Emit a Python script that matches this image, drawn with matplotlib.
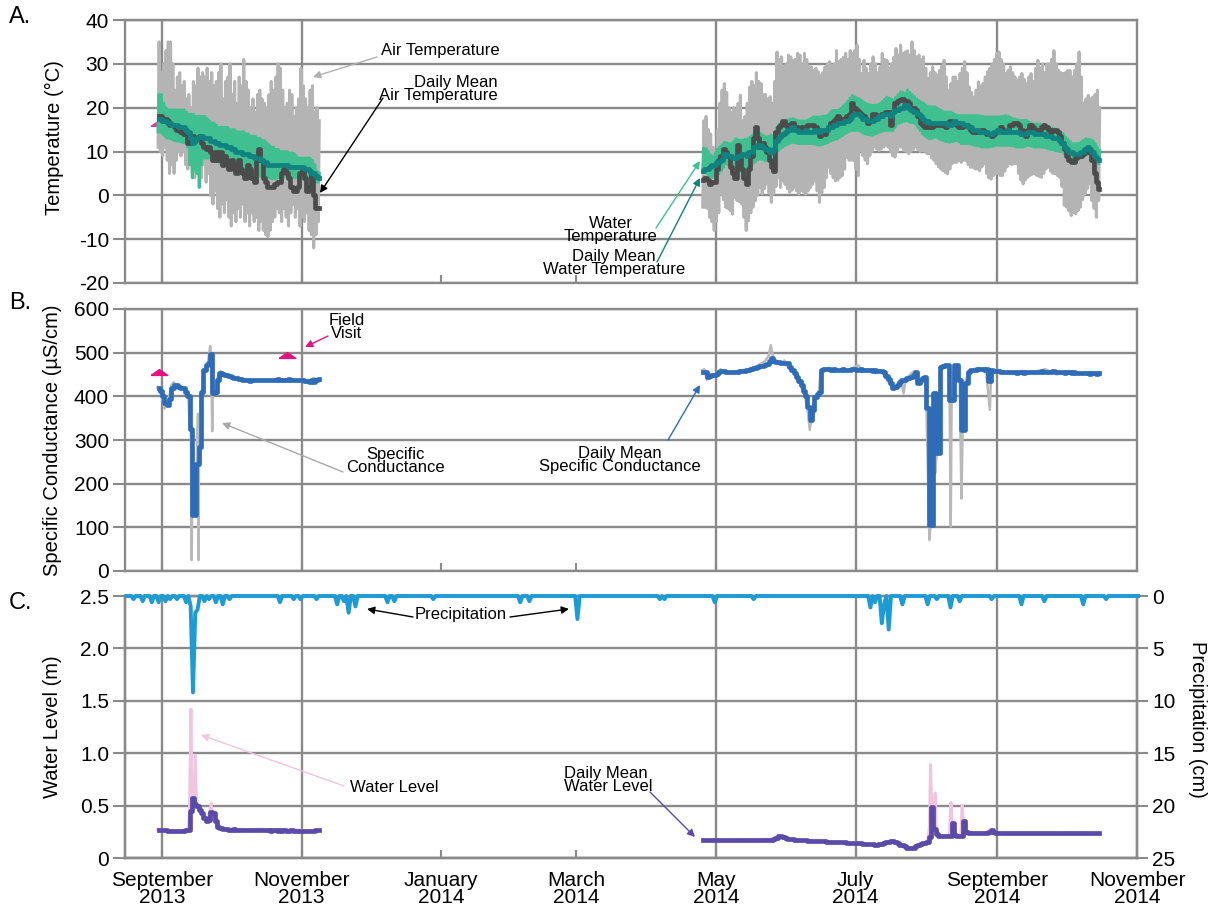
import numpy as np
import matplotlib
matplotlib.use('Agg')
import matplotlib.pyplot as plt
import matplotlib.dates as mdates

plt.rcParams['font.family'] = ['Liberation Sans', 'DejaVu Sans']
plt.rcParams['axes.unicode_minus'] = False

# ------------------------------------------------------------------ data
seg1_start = '2013-08-30'   # first deployment, daily values
seg2_start = '2014-04-25'   # second deployment, daily values

# Panel A - air temperature daily max / min / mean (deg C)
air_max_1 = [35, 28, 30, 33, 35, 35, 30, 24, 27, 28,
             25, 26, 22, 23, 20, 26, 25, 29, 27, 28,
             27, 29, 26, 28, 25, 26, 28, 30, 22, 26,
             27, 30, 23, 26, 21, 27, 25, 31, 26, 24,
             20, 22, 19, 23, 24, 22, 21, 20, 23, 26,
             24, 27, 30, 29, 24, 20, 21, 24, 23, 18,
             20, 22, 29, 25, 22, 20, 24, 25, 19, 20,
             17]
air_min_1 = [11, 10, 9, 11, 8, 5, 7, 5, 8, 10,
             9, 10, 7, 6, 8, 5, 4, 6, 5, 4,
             7, 3, 5, 0, -2, 1, -3, -5, -2, -4,
             -1, -5, -7, -4, -6, -3, -5, -2, -6, -4,
             -7, -4, -6, -5, -8, -6, -8, -9, -9.5, -8,
             -6, -5, -3, -4, -6, -3, -5, -7, -4, -2,
             -5, -3, -7, -5, -6, -4, -8, -9, -12, -9,
             -6]
air_mean_1 = [18, 18, 17, 17.5, 17, 16, 16, 15.5, 15, 15,
              14.5, 14, 14, 12, 13, 13.5, 13, 13, 13.5, 12,
              11, 10.5, 11, 10, 8, 10, 8, 10, 7, 9,
              8, 6, 8, 7, 5, 8, 6, 5, 4, 7,
              6, 4, 3, 8, 10.5, 8, 4, 3, 2, 2,
              2, 2.5, 3, 3, 5, 6, 5, 4, 2, 1,
              1, 2, 5, 6, 4, 1, 2, 5, 0, -3,
              -3]
air_max_2 = [17, 18, 15, 14, 11, 8, 15, 21, 24, 25.5,
             23.5, 20, 19, 20, 19.5, 21, 22.8, 17, 18, 21,
             24.7, 26, 25, 28, 26, 25.5, 23, 23, 22, 22.5,
             21, 26, 32.7, 31, 31.6, 29.3, 30, 32, 31.6, 30.8,
             31, 32.4, 32, 30, 32.4, 31, 29.3, 29.3, 28.5, 29,
             28.2, 27.4, 28, 29.3, 30, 30.5, 29.7, 30, 33, 30.5,
             31, 31.5, 32.4, 31, 33, 32.4, 33, 34.3, 31, 27.8,
             30.8, 29, 27.8, 30, 31.6, 30, 28, 29.3, 32.4, 31,
             30.8, 29, 30, 31.5, 33.5, 32, 34.3, 32.4, 32.7, 33,
             32, 35, 33, 31.6, 32, 31, 31.6, 29, 26.6, 28,
             29.3, 28, 27.4, 28.5, 29.5, 30.8, 27, 24, 25.5, 27,
             27, 26, 27.8, 29, 30.5, 28, 24.7, 23.5, 22.4, 24,
             25.9, 25, 25.5, 27, 28.2, 29, 30, 31, 32.4, 32.7,
             31, 30, 27.8, 28.5, 29.3, 28, 27, 26.3, 27, 27.8,
             26.5, 25.5, 27, 27.8, 26, 29, 30.8, 29, 30, 28,
             30, 30, 31, 33, 30, 28.5, 28, 27.8, 28, 28.5,
             28.5, 27, 28.5, 30, 32.7, 27, 21, 22, 22.8, 22,
             22.4, 23, 24, 20]
air_min_2 = [-2.7, -2.7, -3, -5, -6, -8, -6, -4, 0.3, -1,
             -2.7, -3, -3.5, -4.3, -0.5, -1.2, -1.5, -2, -5, -8,
             -5.8, -4, -2.7, -1.2, 0, 1.8, 0.3, 1.5, 2.6, 0.5,
             -1.6, 0.3, 2, 4.1, 1.8, 3.3, 2.5, 1.5, 0.7, 1.2,
             1.8, 1, 0.3, 1.1, 0.8, 0.3, 1, 1.8, 2.5, 3.3,
             1, -1.6, 0.5, 1.8, 4, 6.4, 5, 4, 3.3, 3.5,
             4.1, 4.5, 6, 8.7, 8, 8, 7.9, 6, 4.5, 10.2,
             9, 8, 7.2, 9, 10, 11, 10.6, 10.2, 10.6, 11,
             11.4, 11, 10, 9, 8.7, 10, 11, 11, 10.2, 10,
             9.5, 10, 10.5, 11, 10.5, 10, 10.2, 10, 9.5, 9.5,
             8.5, 8, 7.2, 6.5, 6, 5.6, 5.2, 4.9, 6, 7.2,
             7.5, 7.5, 7.9, 7.5, 8, 7.9, 7, 6.4, 6.4, 6,
             6, 5.6, 6.5, 7.2, 5, 4, 3.7, 4.5, 4.9, 5,
             4.5, 4.5, 5.5, 6.5, 7.2, 7, 7.2, 7.2, 5, 3.5,
             2.6, 3.5, 4.1, 4.5, 4.8, 4.9, 4.5, 4.3, 4.1, 5,
             6, 6.4, 5.5, 5, 4.9, 4.5, 4.1, 2, -2.3, -2.7,
             -3.5, -4.6, -4, -4.2, -3.5, -2.7, -1, 0.3, 1.5, 2.6,
             -1.2, -3, -5, -1.2]
air_mean_2 = [3.5, 4, 3.5, 2.5, 3, 3, 6, 8, 9, 10.5,
              10, 9, 6.5, 5, 4, 11.5, 9, 6, 4, 2.5,
              6, 9, 13, 15.5, 13, 11, 12, 11, 10, 8,
              6.5, 5.5, 14.5, 15.5, 16, 17, 16, 15.5, 16, 16.5,
              15.5, 15.5, 15, 15.5, 15.5, 15.5, 16, 16, 16, 15.5,
              15, 13.5, 14, 14, 15, 15.5, 16.5, 17, 17.5, 18,
              17.5, 17, 17.5, 18, 18.5, 21, 20, 19.5, 19, 18.5,
              18, 17.5, 16.5, 17, 18.5, 18.5, 18, 18, 18.5, 18.5,
              19, 19, 16, 19, 21, 21.5, 21.7, 22, 21.5, 21.5,
              21, 20, 20, 19.5, 18, 16.5, 16, 15.5, 15.5, 16,
              15.5, 16, 16, 16, 16.5, 16, 15.5, 16.5, 17, 16.5,
              16.5, 16, 15.5, 15.5, 16, 16, 15.5, 15, 14.5, 14.5,
              14.5, 14.5, 15, 14.5, 14, 14, 13.5, 14, 14.5, 15,
              15.5, 15, 14.5, 15, 16, 16, 16.5, 16.5, 16, 15,
              14, 13.5, 15, 16, 15.5, 15, 15, 15, 15.5, 16,
              15.5, 15, 14.5, 15, 15, 14.5, 13.5, 12, 10.5, 9,
              8, 7.5, 7.5, 8.5, 9, 9, 9.5, 10, 10.5, 10,
              8, 5, 3, 1.5]

# Panel A - water temperature daily max / min / mean (deg C)
water_max_1 = [23, 23, 21, 20, 19.5, 19.5, 19.5, 19.5, 19.5, 19.5,
               19.5, 19.5, 19, 18.5, 18.5, 18.5, 18, 18, 18, 18,
               18, 17.5, 17, 16.5, 16.5, 16, 15.5, 15.5, 15.5, 15.5,
               15.5, 15, 15, 15, 14.5, 14.5, 14.5, 14.5, 14, 14,
               13.5, 13.5, 13.5, 13, 13, 12.5, 12.5, 12, 11.5, 11,
               11, 10.5, 10.5, 10, 10, 10, 10, 9.7, 9.7, 9.5,
               9, 8.5, 8.5, 8.5, 8.5, 8.5, 8.5, 8, 7, 5.5,
               5]
water_min_1 = [14.5, 14.4, 14, 13.5, 13, 13, 12.8, 12.5, 12.4, 12.3,
               12.2, 12, 12, 11, 7, 4, 5.8, 5, 1.8, 7,
               8.5, 8.5, 8.5, 8.5, 8.3, 8, 7.7, 7.3, 7, 7,
               6.8, 6.5, 6.3, 6, 6, 5.8, 5.7, 5.6, 5.5, 5.3,
               5.2, 5, 4.8, 4.6, 4.5, 4.3, 4.2, 4.1, 4, 3.9,
               3.8, 3.8, 3.9, 4, 4.1, 4.2, 4.2, 4.2, 4.2, 4.2,
               4, 3.9, 3.8, 3.7, 3.6, 3.5, 3.4, 3.2, 3, 3,
               3]
water_mean_1 = [17.5, 17.5, 17, 17, 16.5, 16.5, 16, 16, 16, 15.5,
                15.5, 15.5, 15, 14.5, 13, 12, 12.5, 13, 13.5, 13.5,
                13, 13, 13, 12.5, 12.5, 12, 12, 11.5, 11.5, 11.5,
                11, 11, 10.5, 10.5, 10, 10, 10, 9.5, 9.5, 9.5,
                9, 9, 8.5, 8.5, 8.5, 8, 7.5, 7.5, 7, 7,
                7, 7, 7, 7, 7, 7, 7, 6.5, 6.5, 6.5,
                6.5, 6.5, 6.5, 6.5, 6, 6, 5.5, 5, 5, 4.5,
                4]
water_max_2 = [10.8, 10.6, 10, 9.2, 8.7, 9.5, 10.5, 11, 11.5, 12.1,
               12, 11.8, 11.8, 12.3, 12.9, 12.7, 12.5, 12.6, 12.8, 12.9,
               13.2, 13.6, 14, 14.2, 14.4, 14, 13.6, 13.3, 13.4, 13.6,
               13.7, 14.5, 15.5, 16.3, 16.6, 16.8, 17, 17.2, 17.4, 17.5,
               17.3, 17.1, 17, 17, 17, 17, 17.3, 17.6, 17.9, 17.9,
               17.9, 17.9, 18, 18.1, 18.2, 18.8, 19.3, 19.4, 19.4, 19.4,
               19.9, 20.4, 20.9, 21.5, 22.2, 22.8, 22.5, 22.2, 22, 21.6,
               21.2, 20.9, 20.7, 20.6, 20.5, 20.6, 20.7, 20.9, 21.4, 21.9,
               22.4, 22.2, 22, 21.7, 22.4, 23, 23.6, 23.5, 23.3, 24,
               23.5, 23, 22.5, 22, 21.6, 21.3, 21, 20.6, 20.3, 20.2,
               20.2, 20.2, 19.9, 19.6, 19.3, 19, 19, 19, 19, 18.7,
               18.4, 18.2, 18.2, 18.2, 18.2, 18.2, 18.2, 18.2, 18.2, 18.2,
               18.2, 18.1, 18, 17.9, 17.9, 17.9, 17.9, 17.9, 17.9, 17.9,
               18, 18.1, 18.2, 18, 17.8, 17.5, 17.4, 17.2, 17.1, 17.1,
               17.1, 17.1, 16.8, 16.5, 16.3, 16.3, 16.3, 16.2, 16, 15.8,
               15.6, 15.5, 15.3, 15.2, 15.1, 14.9, 14.5, 14, 13.3, 12.8,
               12.3, 11.8, 11.8, 11.8, 11.8, 12.2, 12.6, 12.9, 12.8, 12.7,
               12.5, 11.8, 11, 10.2]
water_min_2 = [5.5, 5.3, 4.9, 4.5, 4.1, 4.4, 4.7, 4.9, 5.6, 6.4,
               7.2, 7, 6.7, 6.4, 6.1, 5.8, 5.6, 5.3, 5.1, 4.9,
               6, 7, 7.3, 7.7, 8.1, 8.3, 8.2, 8, 7.9, 8.1,
               8.3, 8.8, 9.6, 10.2, 10.6, 11, 11.4, 11.6, 11.9, 12.1,
               12, 11.9, 11.8, 11.8, 11.8, 11.8, 11.8, 11.8, 11.8, 11.7,
               11.5, 11.4, 11.5, 11.7, 11.9, 12.1, 12.4, 12.6, 12.8, 12.9,
               13.3, 13.6, 14, 14.3, 14.6, 14.8, 14.8, 14.8, 14.8, 14.5,
               14.2, 14, 13.9, 13.8, 13.7, 13.9, 14.1, 14.4, 14.5, 14.7,
               14.8, 14.8, 14.8, 14.8, 15.5, 16.3, 16.5, 16.7, 16.9, 17,
               16.8, 16.6, 16.5, 16.3, 15.5, 14.8, 14, 13.6, 13.2, 12.9,
               13, 13.2, 13.3, 13, 12.7, 12.5, 12.3, 12.2, 12.1, 12.2,
               12.4, 12.5, 12.2, 11.8, 11.8, 11.8, 11.8, 11.7, 11.5, 11.4,
               11.3, 11.2, 11, 11, 11, 11, 11.1, 11.2, 11.4, 11.4,
               11.4, 11.4, 11.4, 11.4, 11.4, 11.3, 11.2, 11, 11, 11,
               11, 11.2, 11.4, 11.3, 11.1, 11, 11, 11, 11, 10.9,
               10.8, 10.6, 10.5, 10.4, 10.2, 10.1, 10, 9.9, 9.5, 9.1,
               8.7, 8.4, 8.1, 7.9, 8.2, 8.5, 8.7, 9, 9.3, 9.5,
               9, 8.5, 7.9, 7.2]
water_mean_2 = [5.5, 6, 6, 6.5, 7, 7, 7.5, 7.5, 8, 9.5,
                9.5, 9, 9, 8.5, 8.5, 9, 9, 9.5, 9.5, 9,
                10, 10, 11, 11, 11.5, 11.5, 11, 10.5, 10.5, 10,
                10, 10.5, 12.5, 13, 13.5, 14, 14.5, 15, 15, 15.5,
                15, 15, 14.5, 14.5, 14.5, 15, 14.5, 14.5, 14.5, 15,
                14.5, 14.5, 15, 15, 15, 15.5, 15.5, 16, 16, 16.5,
                16.5, 16.5, 17, 17, 17.5, 18, 18.5, 18.5, 18.5, 18,
                17.5, 17.5, 17, 17, 17, 17.5, 17.5, 18, 18, 18.5,
                18.5, 18.5, 18, 19, 19.5, 19.5, 20, 20, 20.5, 20.5,
                20, 19.5, 19, 19, 18.5, 18, 17.5, 17, 17, 16.5,
                16.5, 16.5, 16.5, 16.5, 16.5, 16.5, 16.5, 16, 16, 16.5,
                17, 16.5, 16.5, 16.5, 16, 16, 15.5, 15.5, 15, 15,
                15, 14.5, 14.5, 14.5, 14.5, 14, 14, 14.5, 14.5, 15,
                14.5, 14.5, 14.5, 15, 14.5, 14.5, 14.5, 14.5, 14.5, 14,
                14, 14, 14.5, 14.5, 14.5, 14, 14, 14, 14, 14,
                13.5, 13.5, 13.5, 13, 13, 13, 12.5, 12, 11, 10.5,
                10, 10, 9.5, 9.5, 9.5, 10, 10, 10.5, 11, 10.5,
                10, 9, 8.5, 8]

# Panel B - specific conductance (uS/cm)
sc_mean_1 = [418, 412, 400, 385, 380, 395, 418, 425, 426, 422,
             420, 418, 410, 400, 325, 128, 128, 245, 285, 410,
             460, 472, 476, 498, 407, 411, 437, 454, 452, 450,
             448, 446, 444, 442, 441, 440, 439, 438, 437, 437,
             436, 437, 437, 438, 437, 437, 438, 437, 438, 438,
             437, 438, 439, 438, 438, 437, 438, 439, 438, 437,
             438, 437, 438, 437, 436, 435, 433, 438, 432, 437,
             439]
sc_mean_2 = [456, 455, 445, 447, 449, 450, 452, 455, 459, 457,
             455, 455, 455, 455, 456, 456, 457, 458, 459, 460,
             461, 462, 464, 466, 468, 469, 470, 472, 473, 480,
             487, 482, 479, 478, 477, 476, 476, 476, 468, 460,
             453, 445, 436, 425, 412, 400, 376, 346, 369, 399,
             405, 411, 460, 462, 462, 462, 461, 462, 461, 460,
             461, 462, 461, 460, 461, 462, 462, 461, 460, 462,
             461, 460, 461, 460, 459, 460, 459, 458, 458, 455,
             447, 440, 430, 418, 422, 426, 432, 437, 438, 441,
             442, 445, 450, 456, 430, 437, 441, 445, 373, 105,
             105, 407, 270, 270, 468, 470, 472, 471, 392, 392,
             472, 472, 437, 323, 323, 430, 455, 460, 461, 461,
             462, 462, 462, 461, 462, 434, 460, 459, 458, 457,
             456, 456, 455, 455, 456, 455, 455, 454, 455, 455,
             454, 455, 456, 455, 455, 456, 455, 456, 457, 456,
             456, 455, 456, 457, 456, 455, 456, 455, 454, 455,
             455, 454, 455, 454, 453, 454, 453, 454, 453, 452,
             453, 454, 452, 453]
# raw (sub-daily) conductance, day offsets from segment start
sc_raw_days_1 = [0, 2, 3, 4, 5, 6, 7, 9, 11, 12.5, 13.5, 14, 14.6, 14.9, 15.1,
                 16.8, 17.2, 17.7, 17.9, 18.1, 19, 19.4, 20.5, 22, 23, 23.4,
                 23.9, 24.2, 25, 26, 27.5, 30, 35, 40, 45, 50, 55, 60, 65, 67,
                 68, 70]
sc_raw_vals_1 = [420, 400, 372, 382, 395, 425, 432, 422, 420, 412, 400, 330,
                 320, 25, 128, 128, 245, 360, 25, 285, 290, 410, 462, 476, 515,
                 498, 320, 410, 415, 440, 458, 448, 440, 436, 438, 437, 439,
                 437, 436, 430, 442, 440]
sc_raw_days_2 = [0, 1, 2, 3, 6, 8, 10, 15, 20, 24, 27, 29, 30, 31, 32, 34, 36,
                 37, 40, 43, 45, 46, 47, 48, 49, 51, 51.8, 55, 60, 65, 68, 70,
                 75, 79, 82, 83.5, 85, 87, 88, 89, 92, 93, 94, 96, 97.5, 98,
                 99.3, 99.8, 100.5, 101.2, 101.8, 102.5, 103.5, 104.3, 106,
                 108, 108.6, 109, 110.3, 111.5, 112.5, 113.3, 113.8, 115,
                 116.5, 120, 124, 125.7, 126.3, 130, 135, 140, 145, 150, 155,
                 160, 165, 170, 173]
sc_raw_vals_2 = [460, 462, 438, 447, 452, 462, 455, 458, 462, 470, 478, 492,
                 517, 490, 478, 475, 482, 470, 455, 425, 398, 372, 323, 360,
                 395, 412, 460, 465, 460, 462, 472, 460, 462, 452, 428, 416,
                 425, 437, 407, 440, 455, 458, 430, 440, 445, 370, 71, 105,
                 110, 407, 224, 270, 270, 468, 473, 470, 102, 392, 472, 470,
                 437, 166, 323, 432, 458, 465, 462, 369, 460, 458, 452, 458,
                 456, 462, 450, 458, 452, 455, 453]
visit_dates = ['2013-08-30', '2013-10-25']
visit_sc = [456, 495]
visit_temp = [16.5]

# Panel C - water level (m)
wl_mean_1 = [0.27, 0.27, 0.27, 0.27, 0.26, 0.26, 0.26, 0.26, 0.26, 0.26,
             0.26, 0.26, 0.27, 0.27, 0.45, 0.57, 0.52, 0.50, 0.46, 0.43,
             0.38, 0.35, 0.36, 0.44, 0.43, 0.35, 0.30, 0.29, 0.28, 0.28,
             0.275, 0.27, 0.27, 0.275, 0.27, 0.27, 0.265, 0.27, 0.27, 0.27,
             0.265, 0.27, 0.27, 0.265, 0.27, 0.265, 0.265, 0.27, 0.265, 0.26,
             0.265, 0.265, 0.26, 0.265, 0.26, 0.265, 0.26, 0.26, 0.265, 0.26,
             0.26, 0.255, 0.26, 0.26, 0.255, 0.26, 0.26, 0.255, 0.26, 0.265,
             0.265]
wl_mean_2 = [0.17, 0.172, 0.17, 0.168, 0.17, 0.172, 0.17, 0.17, 0.168, 0.17,
             0.172, 0.17, 0.17, 0.168, 0.17, 0.17, 0.172, 0.17, 0.168, 0.17,
             0.17, 0.172, 0.17, 0.17, 0.168, 0.17, 0.172, 0.17, 0.17, 0.172,
             0.175, 0.18, 0.19, 0.21, 0.21, 0.205, 0.195, 0.185, 0.178, 0.177,
             0.176, 0.175, 0.173, 0.172, 0.17, 0.168, 0.166, 0.165, 0.164, 0.163,
             0.162, 0.16, 0.16, 0.158, 0.157, 0.156, 0.155, 0.154, 0.153, 0.152,
             0.151, 0.15, 0.148, 0.147, 0.146, 0.145, 0.143, 0.142, 0.14, 0.14,
             0.138, 0.136, 0.134, 0.132, 0.13, 0.128, 0.125, 0.13, 0.135, 0.14,
             0.15, 0.155, 0.16, 0.16, 0.15, 0.14, 0.125, 0.12, 0.11, 0.10,
             0.095, 0.094, 0.10, 0.11, 0.12, 0.13, 0.14, 0.14, 0.15, 0.20,
             0.49, 0.28, 0.23, 0.21, 0.21, 0.21, 0.21, 0.21, 0.21, 0.33,
             0.22, 0.21, 0.21, 0.21, 0.35, 0.25, 0.236, 0.236, 0.236, 0.237,
             0.236, 0.237, 0.236, 0.237, 0.24, 0.25, 0.27, 0.25, 0.24, 0.238,
             0.237, 0.236, 0.236, 0.237, 0.236, 0.236, 0.237, 0.236, 0.236, 0.236,
             0.237, 0.236, 0.236, 0.235, 0.236, 0.236, 0.237, 0.236, 0.236, 0.235,
             0.236, 0.236, 0.235, 0.236, 0.236, 0.237, 0.236, 0.235, 0.236, 0.236,
             0.235, 0.236, 0.236, 0.235, 0.236, 0.235, 0.235, 0.236, 0.235, 0.235,
             0.234, 0.235, 0.235, 0.235]
wl_raw_days_1 = [0, 5, 10, 13.5, 14, 14.6, 15, 15.5, 16, 16.5, 17, 18, 20, 21.5,
                 23, 23.5, 24, 25, 27, 30, 35, 40, 45, 50, 55, 60, 65, 70]
wl_raw_vals_1 = [0.27, 0.265, 0.26, 0.27, 0.45, 1.42, 0.6, 0.55, 0.5, 0.98,
                 0.5, 0.48, 0.4, 0.35, 0.46, 0.52, 0.42, 0.34, 0.3, 0.28,
                 0.275, 0.27, 0.275, 0.27, 0.265, 0.27, 0.26, 0.27]
wl_raw_days_2 = [0, 10, 20, 31, 33, 35, 38, 50, 60, 67, 76, 83, 87, 91, 95,
                 98.5, 99.3, 99.8, 100.3, 101, 101.8, 102.3, 104, 108, 108.7,
                 109.3, 110, 113, 113.6, 114.3, 116, 125, 126, 128, 140, 150,
                 160, 173]
wl_raw_vals_2 = [0.175, 0.17, 0.175, 0.18, 0.215, 0.205, 0.178, 0.165, 0.15,
                 0.14, 0.125, 0.165, 0.125, 0.095, 0.13, 0.15, 0.3, 0.89, 0.45,
                 0.3, 0.62, 0.25, 0.21, 0.21, 0.53, 0.3, 0.22, 0.21, 0.5, 0.3,
                 0.24, 0.24, 0.275, 0.24, 0.24, 0.235, 0.24, 0.235]

# Panel C - precipitation (cm), non-zero days; all other days zero
precip_start, precip_end = '2013-08-16', '2014-11-01'
precip_dates = ['2013-08-19', '2013-08-23', '2013-08-27', '2013-08-30',
                '2013-09-02', '2013-09-04', '2013-09-07', '2013-09-11',
                '2013-09-13', '2013-09-14', '2013-09-15', '2013-09-16',
                '2013-09-19', '2013-09-21', '2013-09-24', '2013-09-27',
                '2013-09-30', '2013-10-22', '2013-10-28', '2013-10-31',
                '2013-11-07', '2013-11-16', '2013-11-19', '2013-11-21',
                '2013-11-24', '2013-12-08', '2013-12-11', '2013-12-28',
                '2014-02-04', '2014-02-08', '2014-03-01', '2014-04-06',
                '2014-04-08', '2014-04-30', '2014-05-17', '2014-07-07',
                '2014-07-09', '2014-07-12', '2014-07-13', '2014-07-15',
                '2014-07-21', '2014-08-01', '2014-08-05', '2014-08-11',
                '2014-08-15', '2014-08-29', '2014-09-11', '2014-09-21',
                '2014-10-08', '2014-10-18']
precip_cm = [0.3, 0.5, 0.6, 0.6, 0.5, 0.3, 0.3, 0.6, 1.0, 9.2, 1.6, 1.3,
             0.5, 0.3, 0.6, 0.8, 0.3, 0.6, 0.3, 0.3, 0.3, 0.8, 0.5, 1.6,
             1.0, 0.6, 0.5, 0.3, 0.6, 0.5, 2.2, 0.3, 0.3, 0.6, 0.3, 1.1,
             0.6, 2.6, 0.8, 3.2, 0.8, 0.8, 0.3, 1.1, 0.5, 0.3, 0.8, 0.5,
             0.8, 0.3]

tick_dates = ['2013-09-01', '2013-11-01', '2014-01-01', '2014-03-01',
              '2014-05-01', '2014-07-01', '2014-09-01', '2014-11-01']
tick_labels = ['September\n2013', 'November\n2013', 'January\n2014',
               'March\n2014', 'May\n2014', 'July\n2014',
               'September\n2014', 'November\n2014']
grid_dates = ['2013-09-01', '2013-11-01', '2014-05-01', '2014-07-01',
              '2014-09-01']

# ------------------------------------------------------------------ helpers
d2n = mdates.datestr2num


def daily_x(start, vals, off=0.5):
    return d2n(start) + np.arange(len(vals)) + off


def zigzag(start, lo, hi):
    n = min(len(lo), len(hi))
    base = d2n(start) + np.arange(n)
    x = np.column_stack([base + 0.25, base + 0.7]).ravel()
    y = np.column_stack([np.asarray(lo[:n], float),
                         np.asarray(hi[:n], float)]).ravel()
    return x, y


def sparse_x(start, days):
    return d2n(start) + np.asarray(days, float)


GRID = '#8a8a8a'
AIR_RAW = '#b4b4b4'
AIR_MEAN = '#4b4b4b'
WAT_RAW = '#40c090'
WAT_MEAN = '#10827f'
SC_RAW = '#b9b9b9'
SC_MEAN = '#2f6cb8'
PRECIP = '#1c9bd4'
WL_RAW = '#f1c5df'
WL_MEAN = '#5b4ba8'
VISIT = '#e6127f'
TICKFS = 15

W, H = 1217, 909
fig = plt.figure(figsize=(W / 100, H / 100), dpi=100)


def fx(x):
    return x / W


def fy(y):
    return 1 - y / H


def P(x, y):
    return (fx(x), fy(y))


L, R = 125, 1137
axA = fig.add_axes([fx(L), fy(283), fx(R) - fx(L), fy(20) - fy(283)])
axB = fig.add_axes([fx(L), fy(571), fx(R) - fx(L), fy(309) - fy(571)])
axC = fig.add_axes([fx(L), fy(858), fx(R) - fx(L), fy(596) - fy(858)])

xl = d2n('2013-08-16') - 0.2
xr = d2n('2014-11-01')
tick_x = [d2n(t) for t in tick_dates]

for ax in (axA, axB, axC):
    ax.set_xlim(xl, xr)
    ax.set_xticks(tick_x)
    ax.tick_params(axis='x', direction='in', length=6, width=1.5,
                   color=GRID, labelsize=TICKFS, pad=9)
    ax.tick_params(axis='y', direction='out', length=9, width=1.5,
                   color=GRID, labelsize=TICKFS, pad=2.5)
    ax.set_axisbelow(True)
    ax.yaxis.grid(True, color=GRID, lw=1.7)
    for g in grid_dates:
        ax.axvline(d2n(g), color=GRID, lw=1.7, zorder=0.6)
    for s in ax.spines.values():
        s.set_color(GRID)
        s.set_linewidth(1.7)
axA.set_xticklabels([])
axB.set_xticklabels([])
axC.set_xticklabels(tick_labels, linespacing=0.92)

# ---- Panel A
marker_tri = [(-1, -0.35), (1, -0.35), (0, 0.35), (-1, -0.35)]
axA.plot([d2n(visit_dates[0]) + 0.5], visit_temp, ls='none',
         marker=marker_tri, ms=12, color='#c8409e', zorder=1.5)
for st, mx, mn in ((seg1_start, air_max_1, air_min_1),
                   (seg2_start, air_max_2, air_min_2)):
    x, y = zigzag(st, mn, mx)
    axA.plot(x, y, color=AIR_RAW, lw=2.2, zorder=2)
for st, mx, mn in ((seg1_start, water_max_1, water_min_1),
                   (seg2_start, water_max_2, water_min_2)):
    x, y = zigzag(st, mn, mx)
    axA.plot(x, y, color=WAT_RAW, lw=2.2, zorder=3)
for st, v in ((seg1_start, air_mean_1), (seg2_start, air_mean_2)):
    axA.plot(daily_x(st, v), v, color=AIR_MEAN, lw=3.4,
             drawstyle='steps-mid', zorder=4)
for st, v in ((seg1_start, water_mean_1), (seg2_start, water_mean_2)):
    axA.plot(daily_x(st, v), v, color=WAT_MEAN, lw=3.4,
             drawstyle='steps-mid', zorder=5)
axA.set_ylim(-20, 40)
axA.set_yticks(np.arange(-20, 41, 10))

# ---- Panel B
for st, dd, vv in ((seg1_start, sc_raw_days_1, sc_raw_vals_1),
                   (seg2_start, sc_raw_days_2, sc_raw_vals_2)):
    axB.plot(sparse_x(st, dd), vv, color=SC_RAW, lw=1.8, zorder=2)
for st, v in ((seg1_start, sc_mean_1), (seg2_start, sc_mean_2)):
    axB.plot(daily_x(st, v), v, color=SC_MEAN, lw=3.4,
             drawstyle='steps-mid', zorder=3)
axB.plot([d2n(d) + 0.5 for d in visit_dates], visit_sc, ls='none',
         marker=marker_tri, ms=12, color=VISIT, zorder=4)
axB.set_ylim(0, 600)
axB.set_yticks(np.arange(0, 601, 100))

# ---- Panel C
for st, dd, vv in ((seg1_start, wl_raw_days_1, wl_raw_vals_1),
                   (seg2_start, wl_raw_days_2, wl_raw_vals_2)):
    axC.plot(sparse_x(st, dd), vv, color=WL_RAW, lw=2.2, zorder=2)
for st, v in ((seg1_start, wl_mean_1), (seg2_start, wl_mean_2)):
    axC.plot(daily_x(st, v), v, color=WL_MEAN, lw=3.4,
             drawstyle='steps-mid', zorder=3)
axC.set_ylim(0, 2.5)
axC.set_yticks([0, 0.5, 1.0, 1.5, 2.0, 2.5])
axC.set_yticklabels(['0', '0.5', '1.0', '1.5', '2.0', '2.5'])

axC2 = axC.twinx()
px = np.arange(d2n(precip_start), d2n(precip_end) + 1)
py = np.zeros_like(px, dtype=float)
for d, v in zip(precip_dates, precip_cm):
    py[int(round(d2n(d) - px[0]))] = v
axC2.plot(px + 0.5, py, color=PRECIP, lw=2.8, zorder=5, clip_on=False)
axC2.set_ylim(25, 0)
axC2.set_yticks(np.arange(0, 26, 5))
axC2.tick_params(axis='y', direction='out', length=8, width=1.5,
                 color=GRID, labelsize=TICKFS, pad=3)
for s in axC2.spines.values():
    s.set_color(GRID)
    s.set_linewidth(1.7)
axC2.set_xlim(xl, xr)

# ---- axis labels & panel letters
fig.text(fx(54), fy(138), 'Temperature (°C)', rotation=90, ha='center',
         va='center', fontsize=14.5)
fig.text(fx(53), fy(440), 'Specific Conductance (µS/cm)', rotation=90,
         ha='center', va='center', fontsize=14.5)
fig.text(fx(52), fy(727), 'Water Level (m)', rotation=90, ha='center',
         va='center', fontsize=14.5)
fig.text(fx(1198), fy(719), 'Precipitation (cm)', rotation=270,
         ha='center', va='center', fontsize=14.5)
for lab, yy in (('A.', 17), ('B.', 303), ('C.', 603)):
    fig.text(fx(9), fy(yy), lab, ha='left', va='center', fontsize=17)

# ---- annotations
FS = 12


def note(ax, text, xy, ha='center', ls=0.85):
    ax.annotate(text, xy=P(*xy), xycoords='figure fraction', ha=ha,
                va='center', fontsize=FS, linespacing=ls,
                annotation_clip=False)


def arrow(ax, start, end, color):
    ax.annotate('', xy=P(*end), xytext=P(*start),
                xycoords='figure fraction', textcoords='figure fraction',
                annotation_clip=False,
                arrowprops=dict(arrowstyle='-|>', color=color, lw=1.0,
                                mutation_scale=11, shrinkA=0, shrinkB=0))


note(axA, 'Air Temperature', (381, 50), ha='left')
arrow(axA, (377, 57), (313, 77), '#b0b0b0')
axA.annotate('Daily Mean\nAir Temperature', xy=P(498, 89),
             xycoords='figure fraction', ha='right', va='center',
             multialignment='right', fontsize=FS, linespacing=0.85,
             annotation_clip=False)
arrow(axA, (383, 98), (320, 193), 'black')
note(axA, 'Water\nTemperature', (611, 230))
arrow(axA, (656, 228), (700, 161), WAT_RAW)
note(axA, 'Daily Mean\nWater Temperature', (614, 263))
arrow(axA, (657, 262), (700, 178), WAT_MEAN)

note(axB, 'Field\nVisit', (347, 327))
arrow(axB, (328, 336), (305, 347), VISIT)
note(axB, 'Specific\nConductance', (395, 461))
arrow(axB, (343, 472), (222, 423), '#a8a8a8')
note(axB, 'Daily Mean\nSpecific Conductance', (620, 460))
arrow(axB, (668, 440), (700, 385), SC_MEAN)

note(axC, 'Precipitation', (461, 614))
arrow(axC, (413, 617), (367, 609), 'black')
arrow(axC, (510, 617), (569, 609), 'black')
note(axC, 'Water Level', (350, 787), ha='left')
arrow(axC, (344, 786), (201, 735), WL_RAW)
axC.annotate('Daily Mean\nWater Level', xy=P(564, 780),
             xycoords='figure fraction', ha='left', va='center',
             fontsize=FS, linespacing=0.85, annotation_clip=False)
arrow(axC, (650, 792), (695, 837), WL_MEAN)

fig.savefig('out.png', dpi=100)
